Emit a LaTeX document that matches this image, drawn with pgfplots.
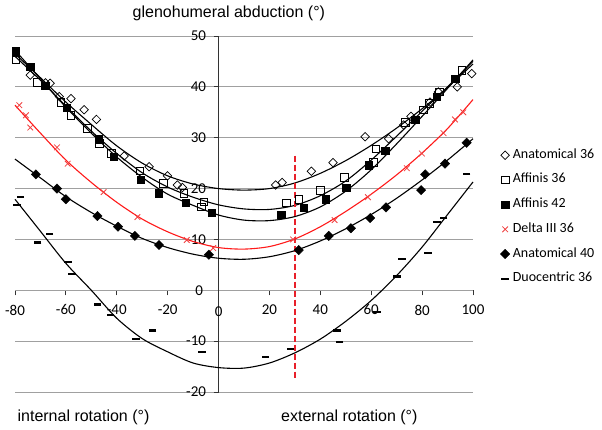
\documentclass[border=0pt]{standalone}
\usepackage{pgfplots}
\pgfplotsset{compat=1.18}
\usepackage{fontspec}
\setmainfont{Liberation Sans}
\newfontfamily\carlito{Carlito}
\definecolor{gridgray}{HTML}{A0A0A0}
\definecolor{myred}{HTML}{FF1A1A}
\definecolor{xred}{HTML}{F04040}
\definecolor{dashred}{HTML}{E8202A}
\begin{document}
\begin{tikzpicture}
\path[use as bounding box] (-15pt,-37pt) rectangle (587pt,392pt);
\begin{axis}[
 scale only axis, width=458pt, height=356pt,
 xmin=-80, xmax=100, ymin=-20, ymax=50,
 axis x line=middle, axis y line=middle,
 axis line style={-},
 x axis line style={gridgray, line width=0.8pt},
 y axis line style={black!80, line width=0.8pt},
 xtick={-80,-60,-40,-20,0,20,40,60,80,100},
 xticklabels={-80,-60,-40,-20,0,20,40,60,80,100},
 ytick={-20,-10,0,10,20,30,40,50},
 yticklabels={-20,-10,0,10,20,30,40,50},
 ymajorgrids, grid style={gridgray, line width=0.8pt},
 tick align=outside, major tick length=5pt,
 tick style={black!80, line width=0.8pt},
 ticklabel style={font=\carlito\fontsize{15}{15}\selectfont},
 xticklabel style={yshift=-6pt},
 yticklabel style={xshift=-4pt},
 clip=false,
 legend style={draw=none, fill=none, at={(1.053,0.691)}, anchor=north west,
   font=\carlito\fontsize{14}{14}\selectfont, row sep=10.7pt,
   nodes={inner sep=0pt, text height=10pt, text depth=4pt},
   /tikz/every odd column/.append style={column sep=3pt}},
 legend cell align=left,
 legend image code/.code={\draw[#1] plot coordinates {(0pt,0pt)};},
]
% trend curves
\addplot[black, line width=1.1pt, smooth, forget plot] coordinates {(-80,46.5)(-70,41.8)(-60,37.0)(-50,32.6)(-40,28.4)(-30,25.0)(-20,22.5)(-10,20.9)(0,20.0)(10,19.7)(20,20.0)(30,21.1)(40,23.0)(50,25.5)(60,28.5)(70,31.9)(80,35.7)(90,39.9)(100,44.5)};
\addplot[black, line width=1.1pt, smooth, forget plot] coordinates {(-80,46.0)(-70,41.3)(-60,36.2)(-50,31.3)(-40,26.9)(-30,23.1)(-20,20.3)(-10,18.3)(0,16.8)(10,16.0)(20,15.9)(30,16.7)(40,18.6)(50,21.5)(60,25.6)(70,30.3)(80,35.2)(90,40.0)(100,45.0)};
\addplot[black, line width=1.1pt, smooth, forget plot] coordinates {(-80,47.2)(-70,41.6)(-60,36.0)(-50,30.9)(-40,26.2)(-30,22.2)(-20,18.9)(-10,16.7)(0,14.8)(10,13.8)(20,13.7)(30,14.5)(40,16.4)(50,19.5)(60,23.7)(70,28.8)(80,34.2)(90,39.7)(100,45.3)};
\addplot[myred, line width=1.1pt, smooth, forget plot] coordinates {(-80,36.4)(-70,30.9)(-60,25.6)(-50,21.2)(-40,17.3)(-30,14.0)(-20,11.5)(-10,9.6)(0,8.4)(10,8.1)(20,8.6)(30,10.1)(40,12.5)(50,15.5)(60,18.9)(70,22.7)(80,27.0)(90,31.8)(100,37.5)};
\addplot[black, line width=1.1pt, smooth, forget plot] coordinates {(-80,25.8)(-70,22.1)(-60,18.4)(-50,15.3)(-40,12.6)(-30,10.2)(-20,8.4)(-10,7.1)(0,6.3)(10,6.1)(20,6.6)(30,7.8)(40,9.7)(50,12.1)(60,14.9)(70,18.1)(80,21.7)(90,25.6)(100,29.8)};
\addplot[black, line width=1.1pt, smooth, forget plot] coordinates {(-80,17.9)(-70,11.6)(-60,5.3)(-50,0.0)(-40,-5.5)(-30,-9.5)(-20,-12.1)(-10,-14.3)(0,-15.2)(10,-15.3)(20,-14.3)(30,-12.3)(40,-9.6)(50,-6.1)(60,-2.0)(70,2.9)(80,8.5)(90,14.9)(100,21.3)};
% dashed red line
\addplot[dashred, line width=2pt, dash pattern=on 6pt off 3pt, forget plot] coordinates {(30,26.5)(30,-17.3)};
% data
\addplot[only marks, mark=square, mark size=3pt, mark options={rotate=45, fill=white, draw=black, line width=0.7pt, solid}] coordinates {(-74,42.3)(-68,40.8)(-66.2,40.7)(-62.6,38.1)(-58,37.7)(-52.8,35.5)(-48,33.6)(-37.1,26.4)(-27.3,24.3)(-20.1,22.5)(-16.2,20.7)(-14.2,20.2)(22.4,20.7)(25,21.2)(36.5,23.4)(45,25.1)(57.6,30.2)(66.8,29.8)(72.7,32.5)(75.6,34.2)(83.1,37)(86.4,39)(93.8,40)(99.5,42.6)};
\addlegendentry{Anatomical 36}
\addplot[only marks, mark=square, mark size=3.8pt, mark options={fill=white, draw=black, line width=0.7pt, solid}] coordinates {(-79.6,45.3)(-71.1,40.9)(-62,37)(-58,34.4)(-51.5,31.8)(-46.9,28.9)(-42.1,26.9)(-30.9,23.5)(-21.7,21)(-13.6,19.1)(-6.7,16.4)(-5.8,17.4)(26.7,17.2)(31.5,17.9)(40,19.7)(49.4,22.2)(60.9,25.1)(61.8,27.8)(73.5,33.0)(80.5,35.5)(82.9,36.7)(86.8,39)(95.6,43.2)};
\addlegendentry{Affinis 36}
\addplot[only marks, mark=square*, mark size=3.6pt, mark options={fill=black, draw=black, solid}] coordinates {(-79.6,47)(-74,43.9)(-68.1,40.3)(-59.7,35.9)(-47.2,29.7)(-41.3,26.2)(-30.6,21.8)(-23.4,19.1)(-12.9,17.2)(-2.7,15.3)(24.6,14.8)(33.5,16.2)(42,17.9)(50.2,20.2)(59,24.6)(65.5,27.5)(77.3,33.6)(85.8,38)(93,41.6)};
\addlegendentry{Affinis 42}
\addplot[only marks, mark=x, mark size=4pt, mark options={draw=xred, line width=0.8pt, solid}] coordinates {(-78.3,36.4)(-75.7,34.4)(-74,32)(-63.5,28.1)(-59.3,24.9)(-45.2,19.3)(-31.9,14.4)(-12.5,9.9)(-2.1,8.3)(29.3,10)(45.6,13.8)(58.7,18.3)(74,24)(79.9,26.9)(88.4,30.9)(92.9,33.6)(96.2,35)};
\addlegendentry{Delta III 36}
\addplot[only marks, mark=square*, mark size=3.3pt, mark options={rotate=45, fill=black, draw=black, solid}] coordinates {(-71.8,22.8)(-63.5,20)(-60,17.9)(-47.6,14.6)(-39.5,12.5)(-32.9,10.7)(-23.4,8.9)(-3.8,7)(31.5,7.9)(43.3,10.7)(52,12.2)(59.6,14.2)(65.8,16.3)(79.6,19.7)(81.2,22.8)(89,24.9)(97.5,29)};
\addlegendentry{Anatomical 40}
\addplot[only marks, mark=-, mark size=3.8pt, mark options={draw=black, line width=2.2pt, solid}] coordinates {(-79.2,16.8)(-77.9,18.4)(-71.1,9.4)(-66.5,11.1)(-59.1,5.5)(-57.6,3.2)(-47.6,-2.8)(-42.4,-4.9)(-32.5,-9.5)(-26,-7.9)(-6.6,-12.2)(18.4,-13.1)(28.2,-11.5)(46.5,-7.9)(47.6,-10.2)(62.2,-4.3)(70.1,2.7)(72,6.2)(82.2,7.4)(85.8,13.4)(88.4,14.2)(97.5,22.8)};
\addlegendentry{Duocentric 36}
\node[font=\carlito\fontsize{15}{15}\selectfont, inner sep=0pt] at (axis cs:0,0) [yshift=-21pt] {0};
\node[font=\carlito\fontsize{15}{15}\selectfont, inner sep=0pt, anchor=east] at (axis cs:0,0) [xshift=-15.5pt] {0};
\node[font=\fontsize{16}{16}\selectfont] at (rel axis cs:0.467,1.063) {glenohumeral abduction (°)};
\node[font=\fontsize{16}{16}\selectfont] at (rel axis cs:0.1496,-0.070) {internal rotation (°)};
\node[font=\fontsize{16}{16}\selectfont] at (rel axis cs:0.730,-0.070) {external rotation (°)};
\end{axis}
\end{tikzpicture}
\end{document}
